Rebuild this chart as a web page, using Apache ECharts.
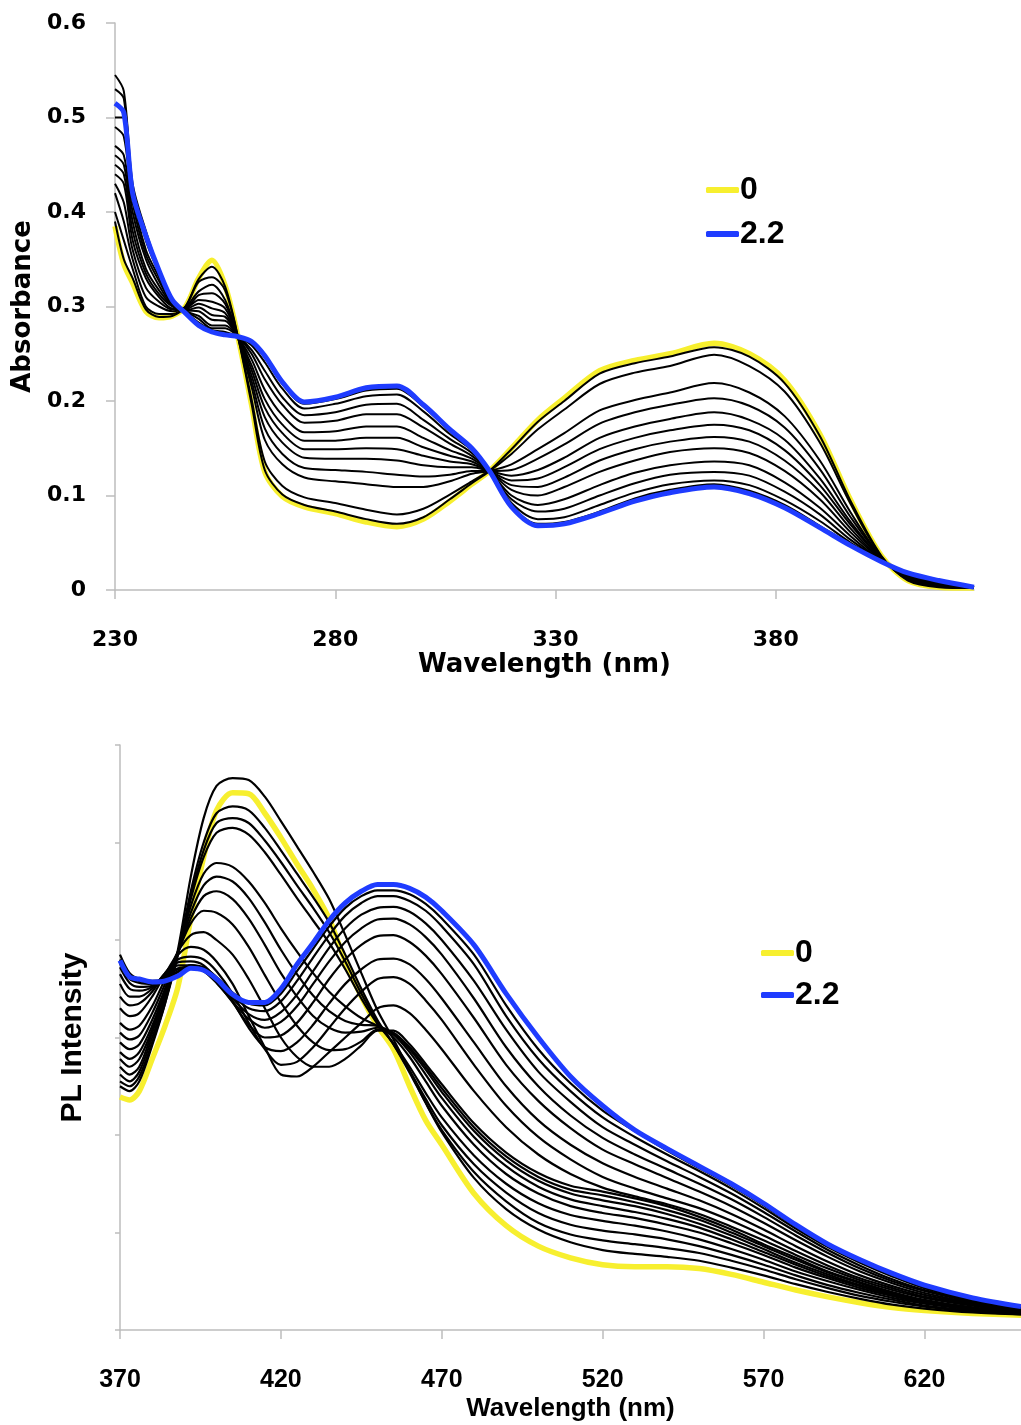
<!DOCTYPE html>
<html><head><meta charset="utf-8">
<script src="https://cdn.jsdelivr.net/npm/echarts@6/dist/echarts.min.js"></script>
<style>html,body{margin:0;padding:0;background:#fff}#c{width:1021px;height:1425px}</style>
</head><body><div id="c"></div>
<script>
// ---------- Absorbance (top) ----------
const absWavelength = [230,232,234,237,240,243,246,249,252,255,258,261,264,268,273,280,287,294,300,306,311,315,320,326,332,340,348,356,366,374,382,390,397,404,410,417,425];
const absTicks = [230,280,330,380];
const abs0  = [0.385,0.345,0.325,0.295,0.288,0.290,0.300,0.330,0.349,0.322,0.266,0.196,0.125,0.099,0.088,0.081,0.072,0.067,0.075,0.094,0.112,0.126,0.150,0.180,0.203,0.232,0.243,0.250,0.261,0.250,0.222,0.165,0.095,0.036,0.010,0.003,0.002];
const abs22 = [0.515,0.505,0.42,0.375,0.338,0.307,0.293,0.280,0.273,0.270,0.268,0.263,0.248,0.220,0.199,0.204,0.214,0.216,0.196,0.170,0.150,0.126,0.088,0.068,0.070,0.081,0.094,0.103,0.109,0.102,0.087,0.066,0.047,0.030,0.018,0.010,0.003];
const abs1  = [0.39,0.35,0.33,0.297,0.289,0.29,0.3,0.329,0.342,0.321,0.266,0.197,0.127,0.101,0.09,0.083,0.075,0.07,0.077,0.096,0.113,0.126,0.149,0.178,0.2,0.229,0.24,0.247,0.257,0.247,0.219,0.163,0.094,0.036,0.01,0.003,0.002];
const abs2  = [0.40,0.37,0.34,0.30,0.292,0.292,0.3,0.326,0.331,0.317,0.266,0.202,0.136,0.11,0.098,0.092,0.085,0.08,0.086,0.101,0.115,0.126,0.144,0.17,0.191,0.218,0.23,0.237,0.249,0.237,0.21,0.156,0.091,0.035,0.011,0.004,0.002];
const abs3  = [0.42,0.39,0.35,0.31,0.30,0.295,0.299,0.316,0.323,0.307,0.266,0.215,0.159,0.133,0.119,0.115,0.112,0.109,0.109,0.115,0.123,0.126,0.133,0.149,0.166,0.19,0.201,0.209,0.219,0.209,0.184,0.137,0.082,0.034,0.012,0.005,0.002];
const abs4  = [0.43,0.41,0.36,0.32,0.305,0.297,0.298,0.312,0.314,0.303,0.267,0.221,0.171,0.144,0.129,0.127,0.125,0.122,0.12,0.122,0.126,0.126,0.127,0.139,0.154,0.176,0.188,0.196,0.203,0.195,0.172,0.128,0.077,0.034,0.013,0.006,0.002];
const abs5  = [0.44,0.43,0.37,0.33,0.31,0.298,0.298,0.307,0.305,0.298,0.267,0.227,0.183,0.156,0.14,0.139,0.139,0.137,0.132,0.13,0.13,0.126,0.121,0.127,0.14,0.161,0.173,0.181,0.188,0.18,0.159,0.118,0.072,0.033,0.014,0.006,0.002];
const abs6  = [0.45,0.44,0.38,0.335,0.313,0.3,0.297,0.303,0.298,0.293,0.267,0.233,0.193,0.166,0.149,0.149,0.15,0.149,0.142,0.136,0.133,0.126,0.116,0.118,0.13,0.149,0.161,0.169,0.175,0.169,0.148,0.111,0.069,0.033,0.014,0.007,0.003];
const abs7  = [0.46,0.45,0.39,0.34,0.317,0.301,0.296,0.299,0.291,0.289,0.267,0.238,0.202,0.175,0.158,0.158,0.161,0.161,0.151,0.142,0.136,0.126,0.111,0.109,0.119,0.137,0.149,0.157,0.162,0.157,0.137,0.104,0.065,0.032,0.015,0.007,0.003];
const abs8  = [0.47,0.46,0.40,0.35,0.322,0.302,0.296,0.295,0.286,0.285,0.267,0.244,0.212,0.185,0.167,0.168,0.173,0.173,0.161,0.148,0.139,0.126,0.106,0.1,0.109,0.125,0.137,0.146,0.15,0.145,0.126,0.096,0.061,0.032,0.016,0.008,0.003];
const abs9  = [0.49,0.48,0.41,0.355,0.327,0.303,0.295,0.29,0.28,0.28,0.268,0.25,0.223,0.196,0.177,0.179,0.186,0.186,0.172,0.155,0.142,0.126,0.1,0.09,0.096,0.111,0.124,0.132,0.136,0.132,0.114,0.087,0.057,0.031,0.016,0.008,0.003];
const abs10 = [0.50,0.50,0.42,0.36,0.331,0.304,0.295,0.287,0.277,0.277,0.268,0.254,0.232,0.204,0.185,0.188,0.196,0.197,0.18,0.16,0.145,0.126,0.096,0.083,0.086,0.1,0.113,0.122,0.125,0.121,0.104,0.08,0.053,0.031,0.017,0.009,0.003];
const abs11 = [0.53,0.52,0.425,0.37,0.335,0.306,0.294,0.283,0.275,0.273,0.268,0.259,0.241,0.213,0.192,0.197,0.205,0.207,0.189,0.165,0.148,0.126,0.092,0.075,0.077,0.09,0.103,0.112,0.116,0.111,0.095,0.073,0.05,0.031,0.017,0.009,0.003];
const abs12 = [0.545,0.528,0.43,0.38,0.338,0.307,0.293,0.281,0.274,0.271,0.268,0.262,0.246,0.218,0.197,0.202,0.211,0.213,0.194,0.168,0.149,0.126,0.089,0.07,0.072,0.083,0.097,0.106,0.112,0.105,0.09,0.068,0.048,0.03,0.018,0.01,0.003];

// ---------- PL (bottom) ----------
const plWavelength = [370,373,376,380,384,388,392,396,400,405,410,415,420,425,430,435,440,445,450,455,460,465,470,480,490,500,510,520,530,540,550,560,570,580,590,600,610,620,635,650];
const plTicks = [370,420,470,520,570,620];
const pl0  = [2.39,2.36,2.45,2.78,3.12,3.52,4.22,4.85,5.33,5.51,5.5,5.3,5.05,4.78,4.52,4.22,3.78,3.42,3.12,2.88,2.5,2.15,1.9,1.4,1.07,0.86,0.74,0.67,0.65,0.65,0.63,0.57,0.49,0.41,0.34,0.28,0.23,0.2,0.17,0.15];
const pl22 = [3.79,3.62,3.6,3.57,3.58,3.63,3.71,3.69,3.6,3.44,3.36,3.36,3.5,3.75,3.97,4.2,4.38,4.5,4.57,4.57,4.53,4.44,4.3,3.95,3.45,3.0,2.6,2.3,2.05,1.86,1.68,1.5,1.3,1.08,0.88,0.72,0.58,0.46,0.33,0.24];
const pl1  = [2.5,2.45,2.55,2.92,3.35,3.9,4.65,5.25,5.58,5.66,5.64,5.47,5.22,4.96,4.7,4.42,4.05,3.66,3.28,2.98,2.66,2.33,2.03,1.56,1.24,1.03,0.9,0.82,0.78,0.75,0.71,0.64,0.56,0.47,0.39,0.32,0.26,0.22,0.18,0.16];
const pl2  = [2.55,2.5,2.6,2.95,3.35,3.85,4.5,5.0,5.3,5.37,5.33,5.15,4.92,4.68,4.44,4.18,3.85,3.5,3.18,2.93,2.64,2.33,2.05,1.62,1.32,1.1,0.98,0.92,0.88,0.84,0.79,0.71,0.62,0.52,0.43,0.35,0.29,0.24,0.19,0.16];
const pl3  = [2.62,2.55,2.65,3.0,3.38,3.85,4.45,4.92,5.2,5.25,5.2,5.02,4.8,4.56,4.33,4.08,3.78,3.45,3.16,2.93,2.66,2.37,2.1,1.7,1.41,1.2,1.08,1.02,0.98,0.93,0.86,0.77,0.67,0.56,0.46,0.38,0.31,0.25,0.2,0.17];
const pl4  = [2.7,2.62,2.7,3.05,3.42,3.87,4.42,4.85,5.1,5.15,5.08,4.9,4.67,4.43,4.2,3.97,3.7,3.4,3.14,2.94,2.7,2.43,2.18,1.79,1.5,1.3,1.18,1.12,1.07,1.01,0.93,0.83,0.72,0.6,0.5,0.41,0.33,0.27,0.21,0.17];
const pl5  = [2.78,2.7,2.78,3.08,3.45,3.88,4.35,4.68,4.79,4.75,4.6,4.38,4.12,3.88,3.66,3.47,3.32,3.2,3.12,3.0,2.8,2.55,2.3,1.9,1.6,1.4,1.27,1.2,1.15,1.08,1.0,0.89,0.77,0.64,0.53,0.43,0.35,0.28,0.22,0.18];
const pl6  = [2.85,2.78,2.85,3.12,3.47,3.87,4.28,4.56,4.65,4.6,4.43,4.18,3.9,3.65,3.43,3.27,3.17,3.13,3.12,3.03,2.85,2.62,2.38,1.98,1.68,1.47,1.34,1.27,1.21,1.14,1.05,0.93,0.8,0.67,0.55,0.45,0.36,0.29,0.22,0.18];
const pl7  = [2.95,2.88,2.93,3.18,3.5,3.87,4.22,4.45,4.5,4.42,4.22,3.95,3.66,3.42,3.22,3.1,3.05,3.06,3.1,3.04,2.88,2.67,2.44,2.04,1.74,1.53,1.4,1.33,1.27,1.19,1.09,0.97,0.83,0.69,0.57,0.46,0.37,0.3,0.23,0.18];
const pl8  = [3.05,2.98,3.02,3.25,3.55,3.88,4.17,4.3,4.28,4.16,3.93,3.64,3.36,3.12,2.95,2.87,2.88,2.96,3.08,3.05,2.9,2.7,2.48,2.08,1.78,1.57,1.44,1.38,1.31,1.23,1.13,1.0,0.86,0.72,0.59,0.48,0.38,0.3,0.23,0.18];
const pl9  = [3.15,3.08,3.12,3.32,3.6,3.88,4.05,4.08,4.0,3.85,3.6,3.3,3.0,2.8,2.7,2.7,2.78,2.92,3.07,3.07,2.93,2.73,2.52,2.12,1.82,1.61,1.48,1.42,1.35,1.27,1.16,1.03,0.88,0.74,0.6,0.49,0.39,0.31,0.23,0.18];
const pl10 = [3.3,3.22,3.25,3.42,3.65,3.85,3.93,3.9,3.78,3.55,3.22,2.9,2.62,2.6,2.7,2.85,3.0,3.15,3.3,3.33,3.25,3.08,2.88,2.45,2.08,1.8,1.6,1.46,1.37,1.29,1.19,1.06,0.92,0.77,0.63,0.51,0.41,0.33,0.25,0.19];
const pl11 = [3.42,3.33,3.35,3.47,3.66,3.8,3.83,3.8,3.68,3.45,3.15,2.88,2.72,2.75,2.9,3.1,3.3,3.47,3.6,3.62,3.55,3.38,3.18,2.72,2.3,1.98,1.75,1.57,1.45,1.35,1.25,1.12,0.97,0.81,0.66,0.53,0.43,0.34,0.26,0.19];
const pl12 = [3.55,3.42,3.42,3.5,3.66,3.77,3.78,3.74,3.6,3.37,3.1,2.9,2.86,2.95,3.13,3.35,3.55,3.7,3.8,3.81,3.75,3.6,3.4,2.95,2.5,2.15,1.9,1.71,1.57,1.45,1.33,1.19,1.03,0.86,0.7,0.56,0.45,0.36,0.27,0.2];
const pl13 = [3.65,3.5,3.48,3.52,3.65,3.74,3.74,3.7,3.57,3.36,3.13,3.0,3.02,3.15,3.36,3.6,3.8,3.95,4.04,4.05,3.98,3.84,3.65,3.2,2.72,2.35,2.07,1.85,1.7,1.56,1.42,1.27,1.1,0.92,0.75,0.6,0.48,0.38,0.28,0.21];
const pl14 = [3.72,3.56,3.52,3.53,3.63,3.71,3.72,3.68,3.56,3.37,3.19,3.1,3.16,3.32,3.55,3.78,3.98,4.12,4.21,4.22,4.16,4.03,3.85,3.4,2.9,2.5,2.2,1.97,1.8,1.65,1.5,1.34,1.16,0.97,0.79,0.63,0.5,0.4,0.29,0.22];
const pl15 = [3.76,3.6,3.56,3.55,3.62,3.7,3.73,3.69,3.57,3.4,3.24,3.18,3.26,3.44,3.68,3.92,4.12,4.26,4.33,4.34,4.29,4.17,4.0,3.58,3.08,2.65,2.34,2.08,1.9,1.73,1.57,1.4,1.21,1.01,0.82,0.66,0.52,0.41,0.3,0.22];
const pl16 = [3.8,3.63,3.58,3.56,3.6,3.68,3.74,3.71,3.6,3.43,3.3,3.27,3.37,3.58,3.82,4.05,4.25,4.38,4.45,4.45,4.4,4.3,4.14,3.75,3.22,2.78,2.45,2.18,1.98,1.8,1.63,1.45,1.25,1.04,0.85,0.69,0.55,0.43,0.31,0.23];
const pl17 = [3.85,3.66,3.6,3.58,3.6,3.67,3.74,3.72,3.62,3.46,3.35,3.33,3.45,3.68,3.91,4.14,4.33,4.45,4.51,4.51,4.47,4.37,4.22,3.85,3.33,2.88,2.53,2.25,2.04,1.84,1.66,1.48,1.28,1.06,0.87,0.7,0.56,0.44,0.32,0.24];

const legendNames = ['0','2.2'];

// ---------- build ----------
const YELLOW = '#f7ef2f', BLUE = '#1f3cff', AXIS = '#bdbdbd';
const pairs = (wl, arr) => wl.map((w, i) => [w, arr[i]]);
const absBlack = [abs1,abs2,abs3,abs4,abs5,abs6,abs7,abs8,abs9,abs10,abs11,abs12];
const plBlack = [pl1,pl2,pl3,pl4,pl5,pl6,pl7,pl8,pl9,pl10,pl11,pl12,pl13,pl14,pl15,pl16,pl17];

function lineSeries(name, wl, arr, idx, color, width, z) {
  return { name, type: 'line', xAxisIndex: idx, yAxisIndex: idx, data: pairs(wl, arr),
    showSymbol: false, symbol: 'none', smooth: 0.3, color: color,
    lineStyle: { color: color, width: width }, itemStyle: { color: color }, z: z, silent: true, animation: false };
}

const series = [];
series.push(lineSeries('0', absWavelength, abs0, 0, YELLOW, 5.5, 2));
absBlack.forEach((a, i) => series.push(lineSeries('a' + (i + 1), absWavelength, a, 0, '#000', 2, 3)));
series.push(lineSeries('2.2', absWavelength, abs22, 0, BLUE, 5, 4));
series.push(lineSeries('0', plWavelength, pl0, 1, YELLOW, 5.5, 2));
plBlack.forEach((a, i) => series.push(lineSeries('p' + (i + 1), plWavelength, a, 1, '#000', 2.2, 3)));
series.push(lineSeries('2.2', plWavelength, pl22, 1, BLUE, 5, 4));

const topFont = 'DejaVu Sans';
const botFont = 'Liberation Sans';

const option = {
  animation: false,
  backgroundColor: '#fff',
  grid: [
    { left: 115, top: 23, right: 47, bottom: 835, containLabel: false },
    { left: 120, top: 745, right: -6, bottom: 95, containLabel: false }
  ],
  xAxis: [
    { type: 'value', gridIndex: 0, min: 230, max: 425, interval: 50,
      name: 'Wavelength (nm)', nameLocation: 'middle', nameGap: 57,
      nameTextStyle: { fontFamily: topFont, fontWeight: 'bold', fontSize: 26, color: '#000' },
      axisLine: { show: true, onZero: false, lineStyle: { color: AXIS, width: 1.5 } },
      axisTick: { show: true, inside: false, length: 9, customValues: absTicks, lineStyle: { color: AXIS, width: 1.5 } },
      axisLabel: { show: true, margin: 39, customValues: absTicks, fontFamily: topFont, fontWeight: 'bold', fontSize: 22, color: '#000' },
      splitLine: { show: false } },
    { type: 'value', gridIndex: 1, min: 370, max: 650, interval: 50,
      name: 'Wavelength (nm)', nameLocation: 'middle', nameGap: 66,
      nameTextStyle: { fontFamily: botFont, fontWeight: 'bold', fontSize: 26, color: '#000' },
      axisLine: { show: true, onZero: false, lineStyle: { color: AXIS, width: 1.5 } },
      axisTick: { show: true, inside: false, length: 9, customValues: plTicks, lineStyle: { color: AXIS, width: 1.5 } },
      axisLabel: { show: true, margin: 38, customValues: plTicks, fontFamily: botFont, fontWeight: 'bold', fontSize: 25, color: '#000' },
      splitLine: { show: false } }
  ],
  yAxis: [
    { type: 'value', gridIndex: 0, min: 0, max: 0.6, interval: 0.1,
      name: 'Absorbance', nameLocation: 'middle', nameGap: 77, nameRotate: 90,
      nameTextStyle: { fontFamily: topFont, fontWeight: 'bold', fontSize: 26, color: '#000' },
      axisLine: { show: true, lineStyle: { color: AXIS, width: 1.5 } },
      axisTick: { show: true, inside: false, length: 9, lineStyle: { color: AXIS, width: 1.5 } },
      axisLabel: { show: true, margin: 29, fontFamily: topFont, fontWeight: 'bold', fontSize: 22, color: '#000' },
      splitLine: { show: false } },
    { type: 'value', gridIndex: 1, min: 0, max: 6, interval: 1,
      name: 'PL Intensity', nameLocation: 'middle', nameGap: 32, nameRotate: 90,
      nameTextStyle: { fontFamily: botFont, fontWeight: 'bold', fontSize: 30, color: '#000' },
      axisLine: { show: true, lineStyle: { color: AXIS, width: 1.5 } },
      axisTick: { show: true, inside: false, length: 5, lineStyle: { color: AXIS, width: 1.5 } },
      axisLabel: { show: false },
      splitLine: { show: false } }
  ],
  legend: [
    { orient: 'vertical', left: 706, top: 168, padding: 0, itemGap: 0, itemWidth: 33, itemHeight: 6, icon: 'roundRect',
      data: legendNames.map(n => ({ name: n })),
      textStyle: { fontFamily: botFont, fontWeight: 'bold', fontSize: 32, lineHeight: 44, color: '#000', padding: [0, 0, 0, -4] },
      selectedMode: false },
    { orient: 'vertical', left: 761, top: 932, padding: 0, itemGap: 0, itemWidth: 33, itemHeight: 6, icon: 'roundRect',
      data: legendNames.map(n => ({ name: n })),
      textStyle: { fontFamily: botFont, fontWeight: 'bold', fontSize: 32, lineHeight: 42, color: '#000', padding: [0, 0, 0, -4] },
      selectedMode: false }
  ],
  series: series
};

const chart = echarts.init(document.getElementById('c'), null, { renderer: 'canvas' });
chart.setOption(option);
</script>
</body></html>
